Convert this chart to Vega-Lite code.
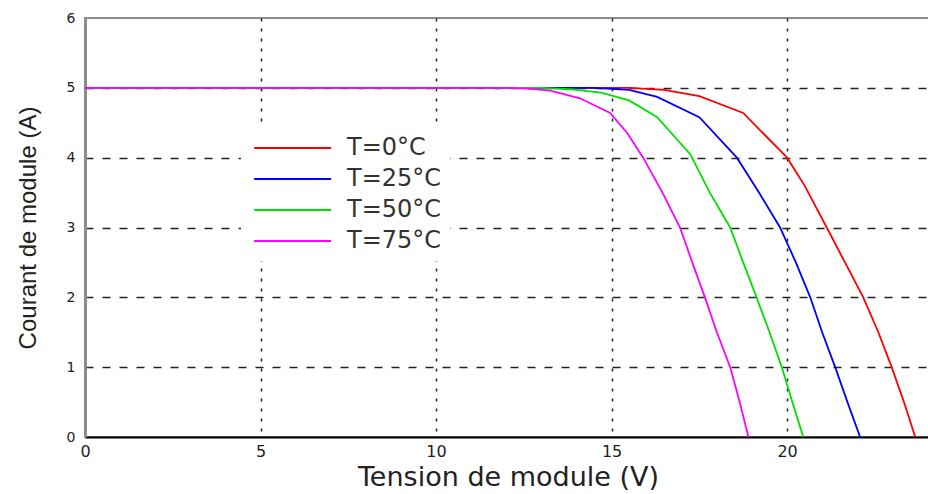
{
  "$schema": "https://vega.github.io/schema/vega-lite/v6.json",
  "width": 846,
  "height": 419,
  "autosize": {"type": "none"},
  "padding": {"left": 85, "top": 18, "right": 0, "bottom": 57},
  "background": "white",
  "config": {
    "view": {"stroke": "#8c8c8c", "strokeWidth": 2},
    "font": "DejaVu Sans"
  },
  "data": {
    "values": [
      {"V": 0, "I": 5, "T": "T=0°C"},
      {"V": 15.5, "I": 5, "T": "T=0°C"},
      {"V": 16.5, "I": 4.97, "T": "T=0°C"},
      {"V": 17.5, "I": 4.88, "T": "T=0°C"},
      {"V": 18.75, "I": 4.64, "T": "T=0°C"},
      {"V": 20.0, "I": 4.0, "T": "T=0°C"},
      {"V": 20.5, "I": 3.6, "T": "T=0°C"},
      {"V": 21.13, "I": 3.0, "T": "T=0°C"},
      {"V": 21.65, "I": 2.5, "T": "T=0°C"},
      {"V": 22.17, "I": 2.0, "T": "T=0°C"},
      {"V": 22.6, "I": 1.5, "T": "T=0°C"},
      {"V": 22.98, "I": 1.0, "T": "T=0°C"},
      {"V": 23.33, "I": 0.5, "T": "T=0°C"},
      {"V": 23.65, "I": 0, "T": "T=0°C"},

      {"V": 0, "I": 5, "T": "T=25°C"},
      {"V": 14.5, "I": 5, "T": "T=25°C"},
      {"V": 15.5, "I": 4.97, "T": "T=25°C"},
      {"V": 16.3, "I": 4.87, "T": "T=25°C"},
      {"V": 17.5, "I": 4.58, "T": "T=25°C"},
      {"V": 18.57, "I": 4.0, "T": "T=25°C"},
      {"V": 19.2, "I": 3.5, "T": "T=25°C"},
      {"V": 19.8, "I": 3.0, "T": "T=25°C"},
      {"V": 20.25, "I": 2.5, "T": "T=25°C"},
      {"V": 20.66, "I": 2.0, "T": "T=25°C"},
      {"V": 21.0, "I": 1.5, "T": "T=25°C"},
      {"V": 21.37, "I": 1.0, "T": "T=25°C"},
      {"V": 21.72, "I": 0.5, "T": "T=25°C"},
      {"V": 22.08, "I": 0, "T": "T=25°C"},

      {"V": 0, "I": 5, "T": "T=50°C"},
      {"V": 13.0, "I": 5, "T": "T=50°C"},
      {"V": 13.8, "I": 4.98, "T": "T=50°C"},
      {"V": 14.7, "I": 4.93, "T": "T=50°C"},
      {"V": 15.5, "I": 4.82, "T": "T=50°C"},
      {"V": 16.3, "I": 4.58, "T": "T=50°C"},
      {"V": 17.24, "I": 4.05, "T": "T=50°C"},
      {"V": 17.8, "I": 3.5, "T": "T=50°C"},
      {"V": 18.38, "I": 3.0, "T": "T=50°C"},
      {"V": 18.75, "I": 2.5, "T": "T=50°C"},
      {"V": 19.13, "I": 2.0, "T": "T=50°C"},
      {"V": 19.5, "I": 1.5, "T": "T=50°C"},
      {"V": 19.85, "I": 1.0, "T": "T=50°C"},
      {"V": 20.15, "I": 0.5, "T": "T=50°C"},
      {"V": 20.46, "I": 0, "T": "T=50°C"},

      {"V": 0, "I": 5, "T": "T=75°C"},
      {"V": 12.0, "I": 5, "T": "T=75°C"},
      {"V": 12.6, "I": 4.99, "T": "T=75°C"},
      {"V": 13.25, "I": 4.96, "T": "T=75°C"},
      {"V": 14.1, "I": 4.85, "T": "T=75°C"},
      {"V": 14.96, "I": 4.64, "T": "T=75°C"},
      {"V": 15.45, "I": 4.35, "T": "T=75°C"},
      {"V": 15.9, "I": 4.0, "T": "T=75°C"},
      {"V": 16.45, "I": 3.5, "T": "T=75°C"},
      {"V": 16.95, "I": 3.0, "T": "T=75°C"},
      {"V": 17.3, "I": 2.5, "T": "T=75°C"},
      {"V": 17.66, "I": 2.0, "T": "T=75°C"},
      {"V": 18.0, "I": 1.5, "T": "T=75°C"},
      {"V": 18.38, "I": 1.0, "T": "T=75°C"},
      {"V": 18.65, "I": 0.5, "T": "T=75°C"},
      {"V": 18.9, "I": 0, "T": "T=75°C"}
    ]
  },
  "mark": {"type": "line", "strokeWidth": 1.8, "clip": true},
  "encoding": {
    "x": {
      "field": "V",
      "type": "quantitative",
      "scale": {"domain": [0, 24.1], "nice": false, "zero": false},
      "axis": {
        "title": "Tension de module (V)",
        "values": [0, 5, 10, 15, 20],
        "grid": true,
        "gridDash": [3, 7],
        "gridColor": "#222222",
        "gridWidth": 1.5,
        "gridOpacity": {"condition": {"test": "datum.value == 0", "value": 0}, "value": 1},
        "ticks": false,
        "domainColor": "#000000",
        "domainWidth": 2,
        "labelFont": "DejaVu Sans",
        "labelFontSize": 16,
        "labelColor": "#222222",
        "labelPadding": 6,
        "labelFlush": false,
        "titleFont": "DejaVu Sans",
        "titleFontSize": 27,
        "titleFontWeight": "normal",
        "titleColor": "#222222",
        "titlePadding": 5
      }
    },
    "y": {
      "field": "I",
      "type": "quantitative",
      "scale": {"domain": [0, 6], "nice": false},
      "axis": {
        "title": "Courant de module  (A)",
        "values": [0, 1, 2, 3, 4, 5, 6],
        "grid": true,
        "gridDash": [8, 9],
        "gridColor": "#222222",
        "gridWidth": 1.5,
        "gridOpacity": {"condition": {"test": "datum.value == 0 || datum.value == 6", "value": 0}, "value": 1},
        "ticks": false,
        "domainColor": "#8c8c8c",
        "domainWidth": 3,
        "labelFont": "DejaVu Sans",
        "labelFontSize": 14,
        "labelColor": "#222222",
        "labelPadding": 10,
        "titleFont": "Liberation Sans",
        "titleFontSize": 24,
        "titleFontWeight": "normal",
        "titleColor": "#222222",
        "titlePadding": 26
      }
    },
    "color": {
      "field": "T",
      "type": "nominal",
      "scale": {
        "domain": ["T=0°C", "T=25°C", "T=50°C", "T=75°C"],
        "range": ["#ff0000", "#0000ff", "#00e000", "#ff00ff"]
      },
      "legend": {
        "title": null,
        "orient": "none",
        "legendX": 156,
        "legendY": 108,
        "fillColor": "white",
        "strokeColor": null,
        "padding": 8,
        "symbolType": "M-0.69,0H5.31",
        "symbolSize": 659,
        "symbolStrokeWidth": 2,
        "labelFont": "DejaVu Sans",
        "labelFontSize": 24,
        "labelColor": "#333333",
        "labelOffset": 70,
        "rowPadding": 5
      }
    }
  }
}
